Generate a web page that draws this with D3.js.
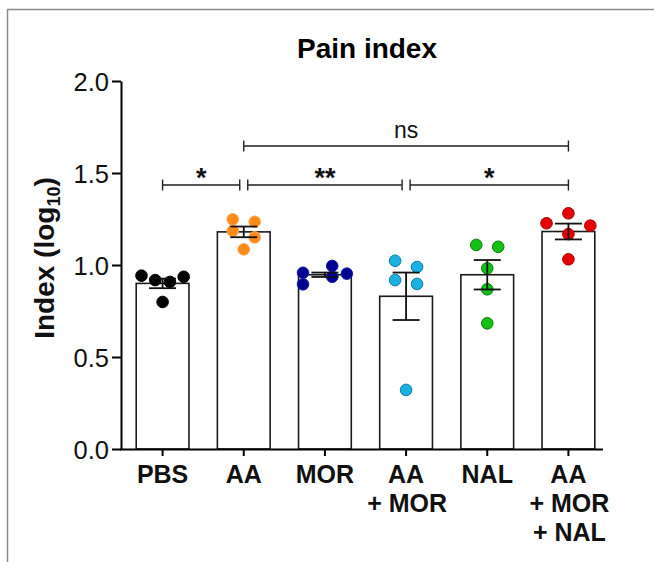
<!DOCTYPE html>
<html>
<head>
<meta charset="utf-8">
<script src="https://cdn.jsdelivr.net/npm/d3@7"></script>
<style>
  html, body { margin: 0; padding: 0; background: #fff; }
  svg { display: block; font-family: "Liberation Sans", Arial, sans-serif; }
</style>
</head>
<body>
<svg id="chart" width="654" height="562"></svg>
<script>
// ---- data ----
const categories = ["PBS", "AA", "MOR", "AA+MOR", "NAL", "AA+MOR+NAL"];
const categoryLines = [["PBS"], ["AA"], ["MOR"], ["AA", "+ MOR"], ["NAL"], ["AA", "+ MOR", "+ NAL"]];
const means = [0.90, 1.18, 0.947, 0.83, 0.947, 1.182];
const sems  = [0.026, 0.029, 0.012, 0.129, 0.08, 0.043];
const pointsPBS   = [0.942, 0.918, 0.908, 0.936, 0.799];
const pointsAA    = [1.248, 1.235, 1.186, 1.150, 1.085];
const pointsMOR   = [0.958, 0.895, 0.995, 0.936, 0.953];
const pointsAAMOR = [1.023, 0.989, 0.918, 0.897, 0.321];
const pointsNAL   = [1.109, 1.099, 0.982, 0.868, 0.683];
const pointsAAMN  = [1.281, 1.227, 1.214, 1.168, 1.031];
// horizontal scatter offsets (fraction of category step)
const jitterPBS   = [-0.26, -0.09, 0.09, 0.26, 0];
const jitterAA    = [-0.135, 0.135, -0.135, 0.135, 0];
const jitterMOR   = [-0.27, -0.27, 0.09, 0.09, 0.27];
const jitterAAMOR = [-0.135, 0.135, -0.135, 0.135, 0];
const jitterNAL   = [-0.135, 0.135, 0, 0, 0];
const jitterAAMN  = [0, -0.27, 0.27, 0, 0];
const fills   = ["#000000", "#ff8a17", "#000090", "#1bb0e2", "#14c014", "#e80000"];
const strokes = ["#000000", "#ffa54d", "#1a1ab0", "#0b7ea8", "#0a7a0a", "#a80000"];
const yTicks = [0, 0.5, 1.0, 1.5, 2.0];
const brackets = [
  { from: "PBS", to: "AA", label: "*", level: 1.435 },
  { from: "AA", to: "AA+MOR", label: "**", level: 1.435 },
  { from: "AA+MOR", to: "AA+MOR+NAL", label: "*", level: 1.435 },
  { from: "AA", to: "AA+MOR+NAL", label: "ns", level: 1.647 }
];
const title = "Pain index";

const allPoints = [pointsPBS, pointsAA, pointsMOR, pointsAAMOR, pointsNAL, pointsAAMN];
const allJitter = [jitterPBS, jitterAA, jitterMOR, jitterAAMOR, jitterNAL, jitterAAMN];

// ---- drawing ----
const svg = d3.select("#chart");
const FONT = '"Liberation Sans", Arial, sans-serif';

// outer frame (top and left edges visible)
svg.append("path")
  .attr("d", "M7.5,562 V9.5 H654")
  .attr("fill", "none").attr("stroke", "#8a8a8a").attr("stroke-width", 1.5);

const x = d3.scaleBand().domain(categories).range([122, 609])
  .paddingInner(0.35).paddingOuter(0.175);
const y = d3.scaleLinear().domain([0, 2]).range([449, 81]);
const cx = c => x(c) + x.bandwidth() / 2;

// title
svg.append("text").attr("x", 367).attr("y", 58)
  .attr("text-anchor", "middle").attr("font-weight", "bold").attr("font-size", 28)
  .text(title);

// bars
svg.append("g").selectAll("rect").data(categories).join("rect")
  .attr("x", d => x(d)).attr("width", x.bandwidth())
  .attr("y", (d, i) => y(means[i])).attr("height", (d, i) => y(0) - y(means[i]))
  .attr("fill", "#fff").attr("stroke", "#1a1a1a").attr("stroke-width", 1.6);

// points
categories.forEach((c, i) => {
  svg.append("g").selectAll("circle").data(allPoints[i]).join("circle")
    .attr("cx", (d, j) => cx(c) + allJitter[i][j] * x.step())
    .attr("cy", d => y(d))
    .attr("r", 5.8)
    .attr("fill", fills[i]).attr("stroke", strokes[i]).attr("stroke-width", 1);
});

// error bars
const eb = svg.append("g").attr("stroke", "#111").attr("stroke-width", 1.8);
categories.forEach((c, i) => {
  const xc = cx(c), hi = y(means[i] + sems[i]), lo = y(means[i] - sems[i]);
  eb.append("line").attr("x1", xc).attr("x2", xc).attr("y1", hi).attr("y2", lo);
  eb.append("line").attr("x1", xc - 13.5).attr("x2", xc + 13.5).attr("y1", hi).attr("y2", hi);
  eb.append("line").attr("x1", xc - 13.5).attr("x2", xc + 13.5).attr("y1", lo).attr("y2", lo);
});

// y axis
const yAxis = svg.append("g").attr("transform", "translate(121,0)")
  .call(d3.axisLeft(y).tickValues(yTicks).tickFormat(d3.format(".1f")).tickSize(9).tickSizeOuter(0).tickPadding(3));
yAxis.select(".domain").attr("stroke", "#000").attr("stroke-width", 2);
yAxis.selectAll(".tick line").attr("stroke", "#000").attr("stroke-width", 2);
yAxis.selectAll(".tick text").attr("font-size", 25.5).attr("font-family", FONT).attr("fill", "#111").attr("dy", "0.36em");

// x axis
const xAxis = svg.append("g").attr("transform", `translate(0,${y(0)})`)
  .call(d3.axisBottom(x).tickSize(7).tickSizeOuter(0).tickFormat(""));
xAxis.select(".domain").attr("d", `M120,0.5 H603`).attr("stroke", "#000").attr("stroke-width", 2);
xAxis.selectAll(".tick line").attr("stroke", "#000").attr("stroke-width", 2);
categories.forEach((c, i) => {
  const t = svg.append("text").attr("text-anchor", "middle")
    .attr("font-weight", "bold").attr("font-size", 25).attr("fill", "#111");
  categoryLines[i].forEach((ln, k) => {
    t.append("tspan").attr("x", cx(c) + (k > 0 ? 1 : 0)).attr("y", 483 + k * 29).text(ln);
  });
});

// y axis title
const yt = svg.append("text").attr("transform", "translate(54,258) rotate(-90)")
  .attr("text-anchor", "middle").attr("font-weight", "bold").attr("font-size", 28).attr("fill", "#111");
yt.append("tspan").text("Index (log");
yt.append("tspan").attr("font-size", 18).attr("dy", 6).text("10");
yt.append("tspan").attr("dy", -6).text(")");

// significance brackets
const bg = svg.append("g");
brackets.forEach(b => {
  const same = brackets.filter(o => o !== b && o.level === b.level);
  const gapL = same.some(o => o.to === b.from) ? 4 : 0;
  const gapR = same.some(o => o.from === b.to) ? 4 : 0;
  const x1 = cx(b.from) + gapL, x2 = cx(b.to) - gapR, yy = y(b.level);
  bg.append("path")
    .attr("d", `M${x1},${yy - 5.5} V${yy + 5.5} M${x1},${yy} H${x2} M${x2},${yy - 5.5} V${yy + 5.5}`)
    .attr("fill", "none").attr("stroke", "#222").attr("stroke-width", 1.4);
  const isNs = b.label === "ns";
  bg.append("text").attr("x", (x1 + x2) / 2).attr("y", isNs ? yy - 8 : yy + 2)
    .attr("text-anchor", "middle").attr("font-size", isNs ? 23 : 27)
    .attr("font-weight", isNs ? "normal" : "bold").attr("fill", "#111")
    .text(b.label);
});
</script>
</body>
</html>
